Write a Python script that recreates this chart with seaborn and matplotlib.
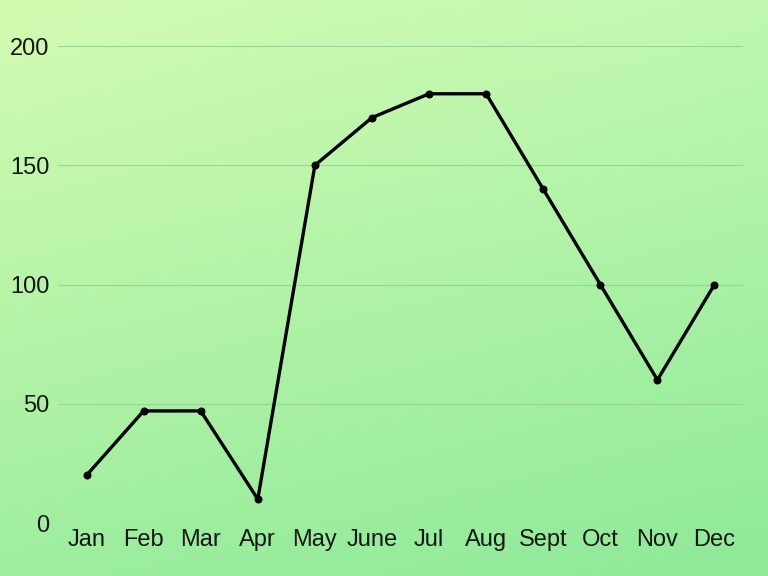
import numpy as np
import pandas as pd
import matplotlib
matplotlib.use("Agg")
import matplotlib.pyplot as plt
import seaborn as sns

months = ["Jan", "Feb", "Mar", "Apr", "May", "June", "Jul", "Aug", "Sept", "Oct", "Nov", "Dec"]
values = [20, 47, 47, 10, 150, 170, 180, 180, 140, 100, 60, 100]
yticks = [0, 50, 100, 150, 200]

sns.set_theme(style="white")
plt.rcParams['font.family'] = ['Liberation Sans', 'DejaVu Sans']

fig = plt.figure(figsize=(7.68, 5.76), dpi=100)

# gradient background (bilinear between corner colours)
bg = fig.add_axes([0, 0, 1, 1], zorder=-10)
h, w = 288, 384
yy, xx = np.mgrid[0:h, 0:w]
u = (xx / (w - 1))[..., None]
v = (yy / (h - 1))[..., None]
tl = np.array([212, 251, 178]) / 255.0
tr = np.array([192, 248, 176]) / 255.0
bl = np.array([158, 238, 160]) / 255.0
br = np.array([142, 233, 152]) / 255.0
img = (tl * (1 - u) * (1 - v) + tr * u * (1 - v) + bl * (1 - u) * v + br * u * v)
bg.imshow(img, aspect='auto', extent=[0, 1, 0, 1])
bg.axis('off')

ax = fig.add_axes([0.0755, 0.092, 0.892, 0.828])
ax.patch.set_alpha(0)
df = pd.DataFrame({"month": months, "value": values})
sns.lineplot(data=df, x="month", y="value", ax=ax, color="black", linewidth=2.4,
             marker="o", markersize=5, markeredgecolor="black", sort=False)

ax.set_xlim(-0.5, len(months) - 0.5)
ax.set_ylim(0, 200)
ax.set_yticks(yticks)
ax.set_xlabel("")
ax.set_ylabel("")
ax.grid(axis='y', color='#98d496', linewidth=0.8)
ax.grid(axis='x', visible=False)
for s in ax.spines.values():
    s.set_visible(False)
ax.tick_params(axis='both', length=0, labelsize=17, labelcolor='#161616')
ax.tick_params(axis='y', pad=6)
ax.tick_params(axis='x', pad=4)
for line in ax.lines:
    line.set_clip_on(False)

fig.savefig("out.png", dpi=100)
